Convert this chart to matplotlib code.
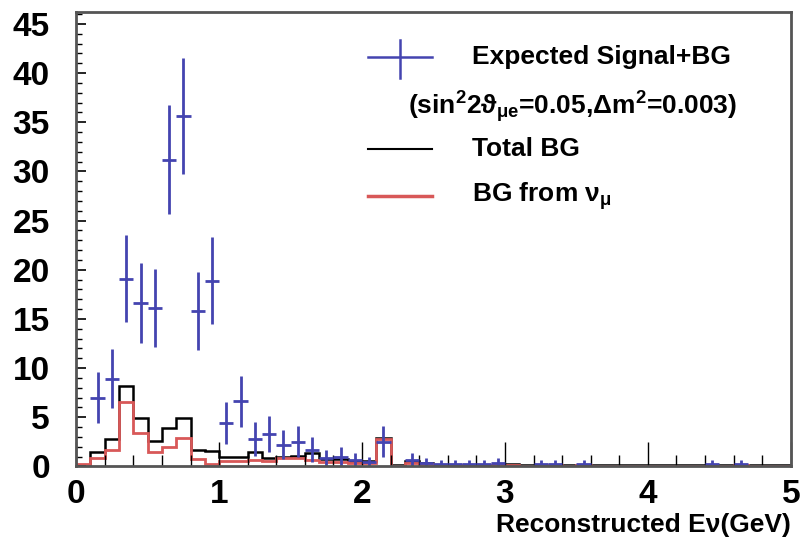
import numpy as np
import matplotlib
matplotlib.use('Agg')
import matplotlib.pyplot as plt
from matplotlib.ticker import MultipleLocator

# bin edges (0.1 GeV bins from 0 to 5 GeV)
bin_edges = np.round(np.arange(0, 5.01, 0.1), 2)

# total background per bin
total_bg = [0.0, 1.5, 2.8, 8.2, 4.9, 2.6, 3.9, 4.9, 1.7, 1.6,
            1.0, 1.0, 1.5, 0.85, 1.0, 1.1, 1.4, 0.7, 0.7, 0.5,
            0.5, 2.9, 0.1, 0.5, 0.3, 0.15, 0.15, 0.1, 0.15, 0.15,
            0.2, 0.1, 0.1, 0.15, 0.1, 0.15, 0.1, 0.1, 0.1, 0.1,
            0.1, 0.1, 0.1, 0.1, 0.1, 0.1, 0.15, 0.1, 0.1, 0.1]

# background from nu_mu per bin
bg_numu = [0.2, 0.85, 1.7, 6.5, 3.4, 1.5, 2.0, 2.9, 0.7, 0.2,
           0.5, 0.5, 0.6, 0.5, 0.8, 0.8, 0.6, 0.4, 0.4, 0.3,
           0.3, 2.8, 0.05, 0.3, 0.2, 0.1, 0.1, 0.05, 0.1, 0.1,
           0.1, 0.05, 0.05, 0.1, 0.05, 0.1, 0.05, 0.05, 0.05, 0.05,
           0.05, 0.05, 0.05, 0.05, 0.05, 0.05, 0.1, 0.05, 0.05, 0.05]

# expected signal + BG points
sig_x = [0.15, 0.25, 0.35, 0.45, 0.55, 0.65, 0.75, 0.85, 0.95, 1.05,
         1.15, 1.25, 1.35, 1.45, 1.55, 1.65, 1.75, 1.85, 1.95, 2.05,
         2.15, 2.35, 2.45, 2.55, 2.65, 2.75, 2.85, 2.95, 3.25, 3.35,
         3.55, 4.45, 4.65]
sig_y = [7.0, 8.9, 19.1, 16.6, 16.1, 31.2, 35.6, 15.8, 18.9, 4.4,
         6.6, 2.8, 3.3, 2.2, 2.5, 1.7, 0.8, 1.0, 0.6, 0.4,
         2.5, 0.6, 0.3, 0.2, 0.2, 0.2, 0.2, 0.3, 0.2, 0.2,
         0.2, 0.2, 0.2]
sig_err = [2.6, 3.0, 4.4, 4.1, 4.0, 5.5, 5.9, 4.0, 4.4, 2.1,
           2.6, 1.7, 1.8, 1.5, 1.6, 1.3, 0.9, 1.0, 0.8, 0.6,
           1.6, 0.8, 0.5, 0.4, 0.4, 0.4, 0.4, 0.5, 0.4, 0.4,
           0.4, 0.4, 0.4]

plt.rcParams['font.family'] = ['Liberation Sans', 'DejaVu Sans']
plt.rcParams['font.weight'] = 'bold'
plt.rcParams['mathtext.fontset'] = 'custom'
plt.rcParams['mathtext.rm'] = 'Liberation Sans:bold'
plt.rcParams['mathtext.it'] = 'Liberation Sans:bold'

fig = plt.figure(figsize=(8.02, 5.48), dpi=100)
ax = fig.add_axes([0.095, 0.149, 0.891, 0.829])

blue = '#4444b0'
red = '#d85858'

ax.stairs(total_bg, bin_edges, color='black', lw=1.8, baseline=0)
ax.stairs(bg_numu, bin_edges, color=red, lw=2.0, baseline=0)
ax.errorbar(sig_x, sig_y, yerr=sig_err, xerr=0.05, fmt='none',
            ecolor=blue, elinewidth=2.0, capsize=0)

ax.set_xlim(0, 5)
ax.set_ylim(0, 46.2)
ax.xaxis.set_major_locator(MultipleLocator(1))
ax.xaxis.set_minor_locator(MultipleLocator(0.2))
ax.yaxis.set_major_locator(MultipleLocator(5))
ax.yaxis.set_minor_locator(MultipleLocator(1))
ax.tick_params(axis='both', which='both', direction='in', labelsize=24,
               top=False, right=False)
ax.tick_params(axis='y', which='major', length=7, width=1.2, pad=19)
ax.tick_params(axis='y', which='minor', length=4, width=1.0)
ax.tick_params(axis='x', which='major', length=17, width=1.0, pad=9)
ax.tick_params(axis='x', which='minor', length=8, width=1.0)
for lab in ax.get_xticklabels() + ax.get_yticklabels():
    lab.set_fontweight('bold')
for sp in ax.spines.values():
    sp.set_linewidth(2.0)
    sp.set_color('#555555')

ax.set_xlabel('Reconstructed E\u03bd(GeV)', fontsize=19, fontweight='bold',
              ha='right', x=1.0, labelpad=2)

# legend drawn by hand
ax.plot([2.04, 2.49], [41.6, 41.6], color=blue, lw=1.8)
ax.plot([2.265, 2.265], [39.5, 43.4], color=blue, lw=1.8)
ax.text(2.77, 41.6, 'Expected Signal+BG', fontsize=19, fontweight='bold',
        va='center')
ax.text(2.32, 36.5, r'(sin$^{2}$2$\vartheta_{\mu e}$=0.05,$\Delta$m$^{2}$=0.003)',
        fontsize=19, fontweight='bold', va='center')
ax.plot([2.04, 2.49], [32.3, 32.3], color='black', lw=1.5)
ax.text(2.77, 32.3, 'Total BG', fontsize=19, fontweight='bold', va='center')
ax.plot([2.04, 2.49], [27.5, 27.5], color=red, lw=2.5)
ax.text(2.77, 27.5, r'BG from $\nu_{\mu}$', fontsize=19, fontweight='bold',
        va='center')

fig.savefig('out.png', dpi=100)
